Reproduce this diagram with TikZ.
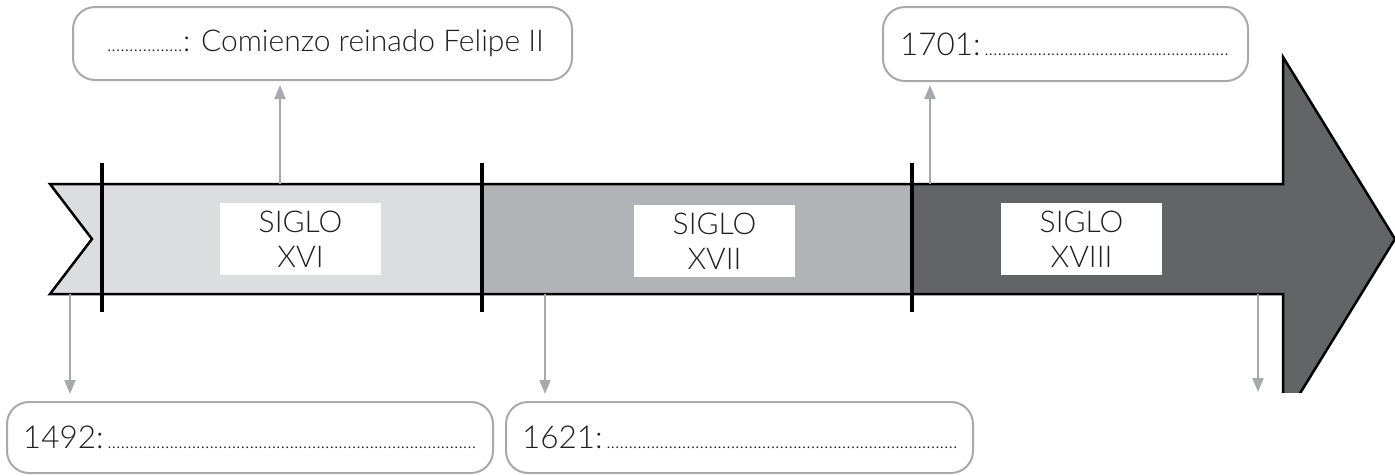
\documentclass[tikz,border=0pt]{standalone}
\usepackage{fontspec}
\IfFontExistsTF{Lato Light}{\setmainfont{Lato Light}}{\setmainfont{Open Sans}}
\usetikzlibrary{arrows.meta}
\definecolor{cxvi}{HTML}{DCDDDF}
\definecolor{cxvii}{HTML}{B1B3B6}
\definecolor{cxviii}{HTML}{636466}
\definecolor{cgray}{HTML}{A7A9AC}
\definecolor{ctext}{HTML}{231F20}
\newcommand{\dotsfill}{{\fontsize{19}{19}\selectfont\leaders\hbox{.}\hfill}}
\tikzset{
  callout/.style={draw=cgray, line width=2pt, rounded corners=22pt, fill=white,
    inner xsep=0pt, inner ysep=0pt, text=ctext, font=\fontsize{31.5}{36}\selectfont},
  siglo/.style={fill=white, inner sep=0pt, minimum width=161pt, minimum height=72pt,
    align=center, text=ctext, font=\fontsize{30}{35}\selectfont},
  conn/.style={draw=cgray, line width=2pt, -{Triangle[width=11pt,length=14pt]}, cgray},
  divider/.style={line width=4pt, black},
  outline/.style={line width=2.5pt, black, line join=miter}
}
\begin{document}
\begin{tikzpicture}[x=1pt,y=-1pt]
\useasboundingbox (0,0) rectangle (1395,475);
% band fills
\begin{scope}
\clip (0,0) rectangle (1400,392.5);
\fill[cxvi] (50,184) -- (482,184) -- (482,294) -- (50,294) -- (92,239) -- cycle;
\fill[cxvii] (482,184) rectangle (912,294);
\fill[cxviii] (912,184) -- (1283,184) -- (1283,57) -- (1395,239) -- (1283,421) -- (1283,294) -- (912,294) -- cycle;
\draw[outline] (50,184) -- (1283,184) -- (1283,57) -- (1395,239) -- (1283,421) -- (1283,294) -- (50,294) -- (92,239) -- cycle;
\end{scope}
% dividers
\draw[divider] (102,163) -- (102,312);
\draw[divider] (482,163) -- (482,312);
\draw[divider] (912,163) -- (912,312);
% century labels
\node[siglo] (s16) at (300.5,239) {SIGLO\\XVI};
\node[siglo] (s17) at (714.5,241) {SIGLO\\XVII};
\node[siglo] (s18) at (1081.5,239) {SIGLO\\XVIII};
% callouts
\node[callout, minimum width=499pt, minimum height=73pt, font=\fontsize{30}{36}\selectfont] (felipe) at (322.5,43.5)
  {\makebox[431pt][l]{\makebox[76pt]{\dotsfill}: Comienzo reinado Felipe II}};
\node[callout, minimum width=365pt, minimum height=74pt] (c1701) at (1065.5,44)
  {\makebox[331pt][l]{1701:\dotsfill}};
\node[callout, minimum width=486pt, minimum height=71pt] (c1492) at (250,437.5)
  {\makebox[454pt][l]{1492:\dotsfill}};
\node[callout, minimum width=467pt, minimum height=71pt] (c1621) at (739.5,437.5)
  {\makebox[435pt][l]{1621:\dotsfill}};
% anchor points on the band
\coordinate (p1) at (280,184);
\coordinate (p2) at (930,184);
\coordinate (p3) at (70,294);
\coordinate (p4) at (545,294);
\coordinate (p5) at (1258,294);
\coordinate (e5) at (1258,392);
% connectors
\draw[conn, shorten >=4pt] (p1) -- (p1 |- felipe.south);
\draw[conn, shorten >=3pt] (p2) -- (p2 |- c1701.south);
\draw[conn, shorten >=7pt] (p3) -- (p3 |- c1492.north);
\draw[conn, shorten >=7pt] (p4) -- (p4 |- c1621.north);
\draw[conn] (p5) -- (e5);
\end{tikzpicture}
\end{document}
